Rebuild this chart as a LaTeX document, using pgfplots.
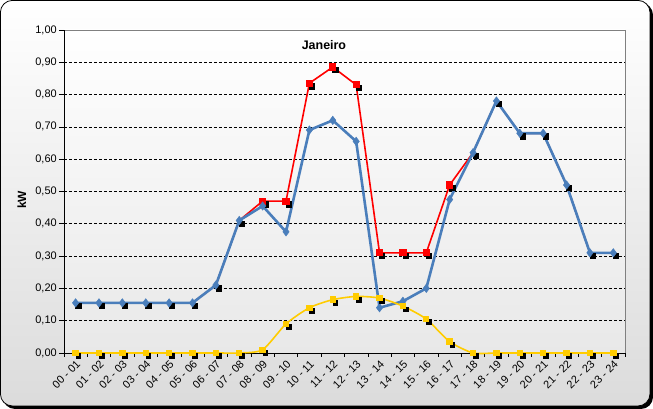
\documentclass[border=0pt]{standalone}
\usepackage{pgfplots}
\pgfplotsset{compat=1.18}
\usepackage{fontspec}
\setmainfont{Liberation Sans}
\definecolor{serblue}{HTML}{4A7EBB}
\definecolor{serred}{HTML}{FF0000}
\definecolor{seryellow}{HTML}{FFCC00}
\begin{document}
\begin{tikzpicture}[x=1bp,y=1bp]
\fill[black, rounded corners=12bp] (3,0) rectangle (653,406);
\shade[top color=white, bottom color=black!14, rounded corners=12bp, draw=black, line width=0.8bp] (0.5,3) rectangle (650,408.5);
\begin{axis}[
  at={(64bp,56bp)}, anchor=south west, scale only axis, width=561bp, height=323bp,
  xmin=-0.5, xmax=23.5, ymin=0, ymax=1,
  axis x line*=bottom, axis y line*=left,
  axis line style={black, line width=0.8bp, -},
  axis background/.style={shade, top color=white, bottom color=black!9, draw=black!50},
  ytick={0,0.1,0.2,0.3,0.4,0.5,0.6,0.7,0.8,0.9},
  extra y ticks={1}, extra y tick style={grid=none},
  ymajorgrids, grid style={black, line width=0.6bp, dash pattern=on 3bp off 2bp},
  tick align=outside,
  major tick length=5bp,
  ytick style={black, line width=0.6bp},
  /pgf/number format/.cd, fixed, fixed zerofill, precision=2, use comma, assume math mode=true,
  /pgfplots/.cd,
  yticklabel style={font=\fontsize{11}{13}\selectfont, inner sep=2bp},
  xtick={0,...,23},
  xticklabels={00 - 01,01 - 02,02 - 03,03 - 04,04 - 05,05 - 06,06 - 07,07 - 08,08 - 09,09 - 10,10 - 11,11 - 12,12 - 13,13 - 14,14 - 15,15 - 16,16 - 17,17 - 18,18 - 19,19 - 20,20 - 21,21 - 22,22 - 23,23 - 24},
  xtick style={draw=none},
  xticklabel style={rotate=45, anchor=north east, font=\fontsize{11}{13}\selectfont, inner sep=1bp},
  extra x ticks={-0.5,0.5,1.5,2.5,3.5,4.5,5.5,6.5,7.5,8.5,9.5,10.5,11.5,12.5,13.5,14.5,15.5,16.5,17.5,18.5,19.5,20.5,21.5,22.5,23.5},
  extra x tick labels={},
  extra x tick style={grid=none, major tick length=4bp, xtick style={draw=black, line width=0.6bp}},
  clip=false,
]
% red series (with shadow)
\addplot[only marks, mark=square*, mark size=2.6bp, black, mark options={xshift=2.5bp, yshift=-3bp}] table {
x y
0 0.155
1 0.155
2 0.155
3 0.155
4 0.155
5 0.155
6 0.21
7 0.41
8 0.47
9 0.47
10 0.835
11 0.885
12 0.83
13 0.31
14 0.31
15 0.31
16 0.52
17 0.62
18 0.78
19 0.68
20 0.68
21 0.52
22 0.31
23 0.31
};
\addplot[serred, line width=1.6bp, mark=square*, mark size=2.8bp, mark indices={9,10,11,12,13,14,15,16,17}, mark options={fill=serred, draw=serred}] table {
x y
0 0.155
1 0.155
2 0.155
3 0.155
4 0.155
5 0.155
6 0.21
7 0.41
8 0.47
9 0.47
10 0.835
11 0.885
12 0.83
13 0.31
14 0.31
15 0.31
16 0.52
17 0.62
18 0.78
19 0.68
20 0.68
21 0.52
22 0.31
23 0.31
};
% blue series
\addplot[serblue, line width=2.6bp, mark=diamond*, mark size=4.2bp, mark options={fill=serblue, draw=serblue, line width=0.5bp}] table {
x y
0 0.155
1 0.155
2 0.155
3 0.155
4 0.155
5 0.155
6 0.21
7 0.41
8 0.455
9 0.375
10 0.69
11 0.72
12 0.655
13 0.14
14 0.16
15 0.20
16 0.475
17 0.62
18 0.78
19 0.68
20 0.68
21 0.52
22 0.31
23 0.31
};
% yellow series (with shadow)
\addplot[only marks, mark=square*, mark size=2.4bp, black, mark options={xshift=2.5bp, yshift=-3bp}] table {
x y
0 0
1 0
2 0
3 0
4 0
5 0
6 0
7 0
8 0.01
9 0.09
10 0.14
11 0.165
12 0.175
13 0.17
14 0.145
15 0.105
16 0.035
17 0
18 0
19 0
20 0
21 0
22 0
23 0
};
\addplot[seryellow, line width=1.6bp, smooth, tension=0.4, mark=square*, mark size=2.4bp, mark options={fill=seryellow, draw=seryellow}] table {
x y
0 0
1 0
2 0
3 0
4 0
5 0
6 0
7 0
8 0.01
9 0.09
10 0.14
11 0.165
12 0.175
13 0.17
14 0.145
15 0.105
16 0.035
17 0
18 0
19 0
20 0
21 0
22 0
23 0
};
\end{axis}
\node[font=\bfseries\fontsize{12.5}{14}\selectfont] at (324,364) {Janeiro};
\node[font=\bfseries\fontsize{12}{14}\selectfont, rotate=90] at (22,209) {kW};
\end{tikzpicture}
\end{document}
